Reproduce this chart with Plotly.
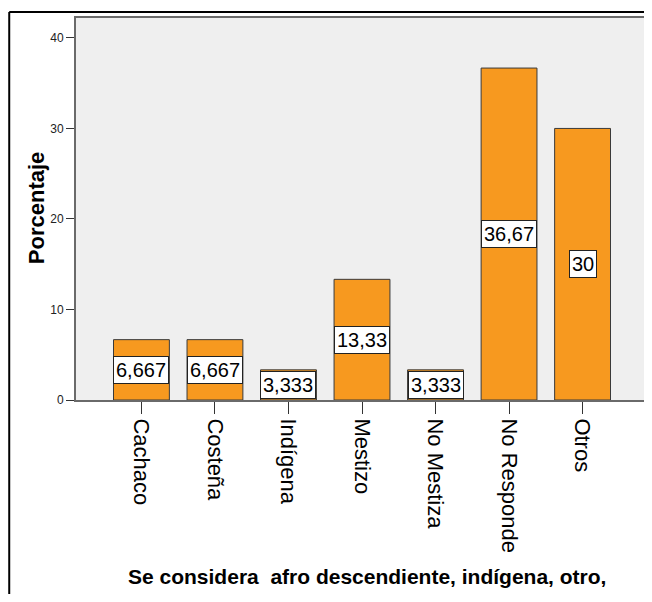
import plotly.graph_objects as go

categories = ["Cachaco", "Costeña", "Indígena", "Mestizo", "No Mestiza", "No Responde", "Otros"]
values = [6.667, 6.667, 3.333, 13.33, 3.333, 36.67, 30]
labels = ["6,667", "6,667", "3,333", "13,33", "3,333", "36,67", "30"]
y_ticks = [0, 10, 20, 30, 40]

# page body has an 8px margin; work in reference pixel coords and shift
OFF = 8
W, H = 652 - OFF, 602 - 2 * OFF
PL, PR, PT, PB = 76, 650, 18, 400  # plot area in reference pixels
ML, MT = PL - OFF, PT - OFF
MR = W - (PR - OFF)
MB = H - (PB - OFF)
PW, PH = W - ML - MR, H - MT - MB

def px_x(p):
    return (p - PL) / PW

def px_y(p):
    return (PB - p) / PH

fig = go.Figure()
fig.add_trace(go.Bar(
    x=categories, y=values,
    width=0.76,
    marker=dict(color="#F7991F", line=dict(color="#3a3a3a", width=1)),
    hoverinfo="skip",
))

for c, v, t in zip(categories, values, labels):
    fig.add_annotation(
        x=c, y=v / 2, xref="x", yref="y", text=t, showarrow=False,
        font=dict(family="Arial", size=20, color="black"),
        bgcolor="white", bordercolor="#222222", borderwidth=1, borderpad=2,
    )

# axis titles
fig.add_annotation(
    x=px_x(36), y=px_y(208), xref="paper", yref="paper", text="<b>Porcentaje</b>",
    xanchor="center", yanchor="middle",
    textangle=-90, showarrow=False, font=dict(family="Arial", size=22, color="black"),
)
fig.add_annotation(
    x=px_x(368), y=px_y(576), xref="paper", yref="paper",
    xanchor="center", yanchor="middle",
    text="<b>Se considera  afro descendiente, indígena, otro,</b>",
    showarrow=False, font=dict(family="Liberation Sans Narrow, Arial", size=21, color="black"),
)

# outer frame lines (top and left)
fig.add_shape(type="line", xref="paper", yref="paper",
              x0=px_x(9), x1=px_x(660), y0=px_y(12), y1=px_y(12),
              line=dict(color="black", width=2))
fig.add_shape(type="line", xref="paper", yref="paper",
              x0=px_x(9), x1=px_x(9), y0=px_y(12), y1=px_y(610),
              line=dict(color="black", width=2))

fig.update_layout(
    width=W, height=H,
    margin=dict(l=ML, r=MR, t=MT, b=MB, pad=0),
    paper_bgcolor="white", plot_bgcolor="#EFEFEF",
    showlegend=False,
    font=dict(family="Arial", color="black"),
)
fig.update_xaxes(
    type="category", range=[-0.89, 6.89],
    showline=True, mirror=True, linecolor="#6a6a6a", linewidth=2,
    ticks="outside", ticklen=12, tickcolor="#333333", tickwidth=1,
    tickangle=90, tickfont=dict(family="Arial", size=22, color="black"),
    showgrid=False, zeroline=False,
)
fig.update_yaxes(
    range=[0, 42.2], tickvals=y_ticks, ticktext=[str(v) for v in y_ticks],
    showline=True, mirror=True, linecolor="#6a6a6a", linewidth=2,
    ticks="outside", ticklen=8, tickcolor="#333333", tickwidth=1,
    tickfont=dict(family="Arial", size=12, color="#222222"),
    showgrid=False, zeroline=False,
)

fig.write_html("out.html")
